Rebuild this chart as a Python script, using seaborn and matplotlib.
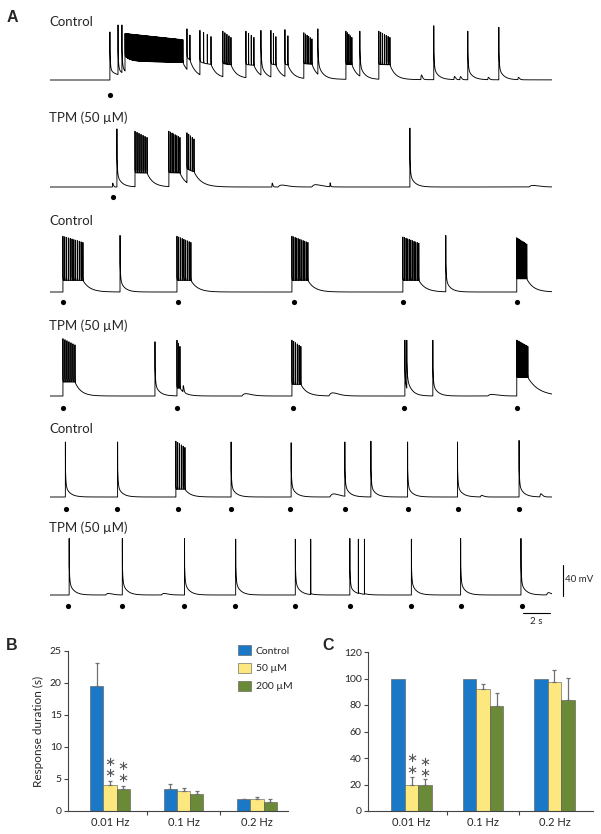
import numpy as np
import pandas as pd
import seaborn as sns
import matplotlib.pyplot as plt

sns.set_theme(style="white")
plt.rcParams["font.family"] = ["Lato", "DejaVu Sans"]

# ---------------- panel A: recorded events (time in s, voltage in mV) ----------------
REST = -60.0
T_END = 37.2
DT = 0.002

# spikes: (time, peak mV, after-depolarisation mV)
# bursts: (start, end, n spikes, peak mV, plateau mV, decay s)
# bumps:  (time, amplitude mV, time constant s)
r1_stim = [4.44]
r1_spikes = [(4.44, 2, 8), (5.04, 11, 8), (5.33, 11, 8), (15.63, 4, 14), (19.85, 6, 14),
             (22.96, 3, 14), (28.44, 10, 15), (30.96, 3, 14), (33.26, 8, 15)]
r1_bursts = [(5.56, 9.85, 120, 0, 19, 0.5), (10.15, 10.37, 2, 6, 16, 0.4),
             (11.11, 11.93, 4, 4, 17, 0.4), (12.81, 13.41, 5, 3, 17, 0.4),
             (14.52, 15.11, 4, 3, 17, 0.4), (16.37, 16.74, 3, 4, 17, 0.4),
             (17.41, 17.63, 2, 5, 16, 0.4), (18.81, 19.41, 6, 1, 19, 0.4),
             (21.93, 22.37, 5, 3, 19, 0.4), (24.37, 25.19, 7, 3, 19, 0.4)]
r1_bumps = [(27.48, 6, 0.05), (29.93, 4, 0.05), (30.37, 4, 0.05), (32.44, 3, 0.05), (34.67, 3, 0.05)]
r1_slow = (4.44, 6, 9.0)

r2_stim = [4.67]
r2_spikes = [(4.96, 15, 16), (26.67, 16, 16)]
r2_bursts = [(6.30, 7.19, 7, 12, 18, 0.45), (8.81, 9.63, 8, 12, 18, 0.45), (10.15, 10.67, 5, 10, 18, 0.55)]
r2_bumps = [(4.62, 5, 0.03), (16.44, 5, 0.03), (16.9, 2.5, 0.3), (19.4, 3, 0.3), (20.74, 5, 0.02), (35.5, 2, 0.3)]

r3_stim = [0.96, 9.48, 18.07, 26.15, 34.59]
r3_spikes = [(5.19, 13, 15), (29.33, 13, 15)]
r3_bursts = [(0.96, 2.44, 12, 12, 15, 0.5), (9.41, 10.44, 9, 12, 15, 0.5), (17.93, 19.11, 11, 12, 15, 0.5),
             (26.15, 27.33, 11, 11, 15, 0.5), (34.59, 35.33, 9, 10, 17, 0.5)]
r3_bumps = []

r4_stim = [0.96, 9.41, 18.0, 26.22, 34.59]
r4_spikes = [(7.78, 10, 15), (26.30, 12, 14), (26.44, 12, 14), (28.37, 12, 15)]
r4_bursts = [(0.96, 1.85, 7, 14, 18, 0.45), (9.41, 9.63, 3, 12, 10, 0.4),
             (17.93, 18.59, 6, 12, 15, 0.45), (34.59, 35.41, 14, 12, 24, 0.8)]
r4_bumps = [(9.85, 8, 0.03), (14.22, 3, 0.3), (20.67, 4, 0.3), (32.44, 2, 0.3)]

r5_stim = [1.2, 4.99, 9.46, 13.42, 17.81, 21.85, 26.5, 30.26, 34.76]
r5_spikes = [(1.14, 11, 14), (5.01, 11, 14), (13.42, 11, 14), (17.87, 10, 15), (21.85, 11, 14),
             (23.78, 12, 14), (26.5, 11, 14), (30.2, 11, 14), (34.76, 13, 15)]
r5_bursts = [(9.33, 10.0, 6, 12, 10, 0.4)]
r5_bumps = [(20.74, 4, 0.3), (31.9, 2, 0.1), (36.3, 4, 0.08)]

r6_stim = [1.37, 5.33, 9.91, 13.73, 18.18, 22.22, 26.73, 30.43, 34.96]
r6_spikes = [(1.42, 13, 16), (5.36, 13, 16), (9.97, 13, 16), (13.76, 12, 16), (18.18, 12, 16),
             (19.32, 12, 1), (22.22, 13, 12), (22.85, 12, 1), (23.3, 12, 1), (26.78, 12, 16),
             (30.43, 13, 16), (34.9, 13, 16)]
r6_bursts = []
r6_bumps = [(4.13, 2, 0.2), (8.26, 2, 0.2), (36.8, 3, 0.15)]

row_labels = ["Control", "TPM (50 \u00b5M)", "Control", "TPM (50 \u00b5M)", "Control", "TPM (50 \u00b5M)"]

# ---------------- panels B and C ----------------
freqs = ["0.01 Hz", "0.1 Hz", "0.2 Hz"]
groups = ["Control", "50 \u00b5M", "200 \u00b5M"]
b_control = [19.5, 3.5, 1.8]
b_50 = [4.1, 3.15, 1.95]
b_200 = [3.4, 2.7, 1.45]
b_control_err = [3.7, 0.65, 0.12]
b_50_err = [0.6, 0.5, 0.25]
b_200_err = [0.5, 0.35, 0.4]
c_control = [100, 100, 100]
c_50 = [20, 92, 97]
c_200 = [20, 79, 84]
c_control_err = [0, 0, 0]
c_50_err = [5.8, 4, 9.6]
c_200_err = [4, 10, 16.4]

colors = ["#1b78c6", "#fde77f", "#6b8a38"]


def build_trace(spikes, bursts, bumps, slow=None):
    t = np.arange(0, T_END, DT)
    v = np.full_like(t, REST)
    if slow is not None:
        t0, a, tau = slow
        m = t >= t0
        v[m] += a * np.exp(-(t[m] - t0) / tau)
    peaks = []
    for s, e, n, pk, plat, dec in bursts:
        m = (t >= s) & (t <= e)
        v[m] += plat
        m2 = t > e
        v[m2] += plat * np.exp(-(t[m2] - e) / dec)
        for ts, p in zip(np.linspace(s, e, n), np.linspace(pk, pk - 8, n)):
            d = t - ts
            mm = d > 0
            v[mm] += 8 * np.exp(-d[mm] / 0.01)
            peaks.append((ts, p))
    for tb, amp, tau in bumps:
        d = t - tb
        m = d > 0
        v[m] += amp * (d[m] / tau) * np.exp(1 - d[m] / tau)
    for ts, pk, tail in spikes:
        d = t - ts
        m = d > 0
        v[m] += tail * np.exp(-d[m] / 0.35) + (25 if tail > 2 else 0) * np.exp(-d[m] / 0.04)
        peaks.append((ts, pk))
    for ts, pk in peaks:
        i = int(round(ts / DT))
        v[i] = max(v[i], pk)
    return t, v


fig = plt.figure(figsize=(6.01, 8.34), dpi=100)


def fx(x):
    return x / 601


def fy(y):
    return 1 - y / 834


K = 1 / 0.775  # mV per pixel
rows = [
    (r1_stim, r1_spikes, r1_bursts, r1_bumps, r1_slow),
    (r2_stim, r2_spikes, r2_bursts, r2_bumps, None),
    (r3_stim, r3_spikes, r3_bursts, r3_bumps, None),
    (r4_stim, r4_spikes, r4_bursts, r4_bumps, None),
    (r5_stim, r5_spikes, r5_bursts, r5_bumps, None),
    (r6_stim, r6_spikes, r6_bursts, r6_bumps, None),
]
row_base = [80, 187, 292, 396, 497, 595]
label_y = [22, 118, 221, 326, 429, 528]
dot_off = [15, 10, 10, 12, 12, 11]

for k, (stim, spikes, bursts, bumps, slow) in enumerate(rows):
    base = row_base[k]
    ax = fig.add_axes([fx(50), fy(base + 22), 502 / 601, 92 / 834])
    t, v = build_trace(spikes, bursts, bumps, slow)
    ax.plot(t, v, color="black", lw=0.65)
    sns.scatterplot(x=stim, y=[REST - dot_off[k] * K] * len(stim), ax=ax,
                    color="black", s=14, linewidth=0, legend=False)
    ax.set_xlim(0, T_END)
    ax.set_ylim(REST - 22 * K, REST + 70 * K)
    ax.axis("off")
    fig.text(fx(49), fy(label_y[k]), row_labels[k], fontsize=9.5, va="center", ha="left")
    if k == 5:
        # scale bars: 40 mV and 2 s
        x40 = (563 - 50) / 13.5
        ax.plot([x40, x40], [REST - 1 * K, REST - 1 * K + 40], color="black", lw=0.8, clip_on=False)
        ax.text(x40 + 0.2, REST + 15 * K, "40 mV", fontsize=7, va="center", ha="left")
        ax.plot([35.04, 37.04], [REST - 18 * K] * 2, color="black", lw=0.8, clip_on=False)
        ax.text(36.04, REST - 27 * K, "2 s", fontsize=7, va="center", ha="center")

fig.text(fx(7), fy(17), "A", fontsize=11.5, fontweight="bold", family="Liberation Sans", va="center")
fig.text(fx(6), fy(645), "B", fontsize=11.5, fontweight="bold", family="Liberation Sans", va="center")
fig.text(fx(322), fy(645), "C", fontsize=11.5, fontweight="bold", family="Liberation Sans", va="center")


def bar_panel(ax, vals, errs, ylim, yticks, xlim, width):
    df = pd.DataFrame({
        "freq": freqs * 3,
        "group": np.repeat(groups, 3),
        "value": np.concatenate(vals),
    })
    sns.barplot(data=df, x="freq", y="value", hue="group", hue_order=groups, palette=colors,
                width=width, errorbar=None, saturation=1, edgecolor="#555555", linewidth=0.4,
                gap=0, ax=ax)
    for cont, err in zip(ax.containers, errs):
        xs = [p.get_x() + p.get_width() / 2 for p in cont.patches]
        hs = [p.get_height() for p in cont.patches]
        for x, h, e in zip(xs, hs, err):
            if e > 0:
                ax.errorbar(x, h, yerr=[[0], [e]], fmt="none", ecolor="#707070",
                            elinewidth=0.9, capsize=1.6, capthick=0.9)
    ax.set_xlim(*xlim)
    ax.set_ylim(*ylim)
    ax.set_yticks(yticks)
    ax.set_xlabel("")
    ax.set_ylabel("")
    ax.set_xticks([0.5, 1.5], minor=True)
    ax.tick_params(axis="x", which="major", length=0, labelsize=8, pad=4)
    ax.tick_params(axis="x", which="minor", length=3, width=0.8, color="#444444", direction="out", bottom=True)
    ax.tick_params(axis="y", length=3, width=0.8, color="#444444", direction="out", labelsize=7.5, pad=1.5, left=True)
    for sp in ["top", "right"]:
        ax.spines[sp].set_visible(False)
    for sp in ["left", "bottom"]:
        ax.spines[sp].set_color("#444444")
        ax.spines[sp].set_linewidth(0.8)


axB = fig.add_axes([fx(68), fy(811), 220 / 601, 160 / 834])
bar_panel(axB, [b_control, b_50, b_200], [b_control_err, b_50_err, b_200_err],
          (0, 25), range(0, 26, 5), (-0.57, 2.42), 0.54)
axB.set_ylabel("Response duration (s)", fontsize=8.5, labelpad=4)
handles, labels = axB.get_legend_handles_labels()
axB.legend(handles, labels, loc="upper left", bbox_to_anchor=(fx(238), fy(645)),
           bbox_transform=fig.transFigure, frameon=False, fontsize=7.5,
           handlelength=1.2, handleheight=1.1, labelspacing=0.7, handletextpad=0.5,
           borderaxespad=0, borderpad=0)

axC = fig.add_axes([fx(368), fy(811), 225 / 601, 159 / 834])
bar_panel(axC, [c_control, c_50, c_200], [c_control_err, c_50_err, c_200_err],
          (0, 120), range(0, 121, 20), (-0.61, 2.54), 0.57)
if axC.get_legend() is not None:
    axC.get_legend().remove()

# significance marks over the 0.01 Hz drug bars (two stacked asterisks each)
for ax, mid in [(axB, (6.7, 6.0)), (axC, (35, 32.3))]:
    for cont, yc in zip(ax.containers[1:3], mid):
        p = cont.patches[0]
        xc = p.get_x() + p.get_width() / 2
        ax.text(xc, yc, "\u2217\n\u2217", fontsize=9.5, color="#555555", ha="center", va="center",
                linespacing=0.85, family="DejaVu Sans")

fig.savefig("out.png", dpi=100)
